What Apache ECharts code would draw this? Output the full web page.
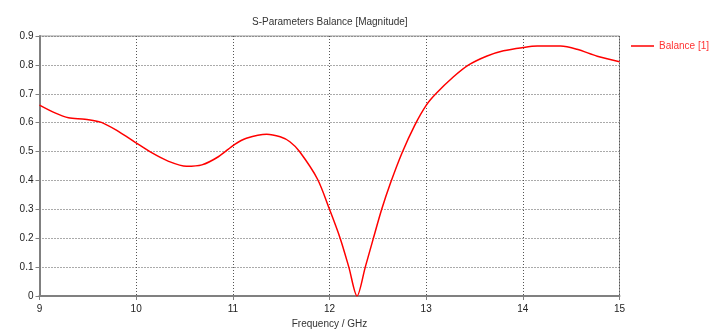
<!DOCTYPE html>
<html>
<head>
<meta charset="utf-8">
<script src="https://cdn.jsdelivr.net/npm/echarts@6/dist/echarts.min.js"></script>
<style>html,body{margin:0;padding:0;background:#fff;}#c{width:721px;height:329px;}</style>
</head>
<body>
<div id="c"></div>
<script>
const titleText = "S-Parameters Balance [Magnitude]";
const xAxisName = "Frequency / GHz";
const seriesName = "Balance [1]";
const freq = [9.0, 9.16, 9.3, 9.47, 9.64, 9.82, 9.99, 10.16, 10.33, 10.52, 10.68, 10.85, 11.02, 11.14, 11.35, 11.49, 11.59, 11.69, 11.875, 12.0, 12.11, 12.2, 12.285, 12.37, 12.45, 12.54, 12.63, 12.75, 12.88, 13.0, 13.1, 13.28, 13.44, 13.63, 13.80, 14.0, 14.15, 14.39, 14.56, 14.77, 15.0];
const balance = [0.661, 0.634, 0.617, 0.612, 0.601, 0.569, 0.532, 0.496, 0.467, 0.449, 0.454, 0.482, 0.525, 0.546, 0.560, 0.551, 0.534, 0.5, 0.405, 0.3, 0.2, 0.1, 0.0, 0.1, 0.195, 0.3, 0.39, 0.495, 0.59, 0.66, 0.7, 0.758, 0.8, 0.831, 0.849, 0.860, 0.865, 0.865, 0.854, 0.830, 0.811];

const font = "Liberation Sans";
const chart = echarts.init(document.getElementById('c'), null, {renderer: 'canvas'});
chart.setOption({
  animation: false,
  backgroundColor: '#fff',
  title: {
    text: titleText, left: 247, top: 12,
    textStyle: {fontFamily: font, fontSize: 10, fontWeight: 'normal', color: '#333'}
  },
  legend: {
    data: [{name: seriesName, icon: 'rect'}], left: 631, top: 41, padding: 0, itemWidth: 23, itemHeight: 1.5, itemGap: 4,
    textStyle: {fontFamily: font, fontSize: 10, color: '#ff3333', padding: [0, 0, 0, 0]}
  },
  grid: {left: 39.5, right: 101.5, top: 36, bottom: 33, outerBoundsMode: 'none', containLabel: false,
         show: true, borderColor: '#999', borderWidth: 1, backgroundColor: 'transparent'},
  xAxis: {
    type: 'value', min: 9, max: 15, interval: 1,
    name: xAxisName, nameLocation: 'middle', nameGap: 23,
    nameTextStyle: {fontFamily: font, fontSize: 10, color: '#333'},
    axisLine: {lineStyle: {color: '#808080', width: 2}},
    axisTick: {show: true, length: 4, lineStyle: {color: '#808080'}},
    axisLabel: {fontFamily: font, fontSize: 10, color: '#222', margin: 8},
    splitLine: {show: true, lineStyle: {type: [1, 2], color: '#555', width: 1}}
  },
  yAxis: {
    type: 'value', min: 0, max: 0.9, interval: 0.1,
    axisLine: {show: true, lineStyle: {color: '#808080', width: 2}},
    axisTick: {show: true, length: 4, lineStyle: {color: '#808080'}},
    axisLabel: {fontFamily: font, fontSize: 10, color: '#222', margin: 6},
    splitLine: {show: true, lineStyle: {type: [1, 2], color: '#555', width: 1}}
  },
  series: [{
    name: seriesName, type: 'line', symbol: 'none', smooth: 0.3,
    lineStyle: {color: '#ff0000', width: 1.5}, itemStyle: {color: '#ff0000'},
    data: freq.map((f, i) => [f, balance[i]])
  }]
});
</script>
</body>
</html>
